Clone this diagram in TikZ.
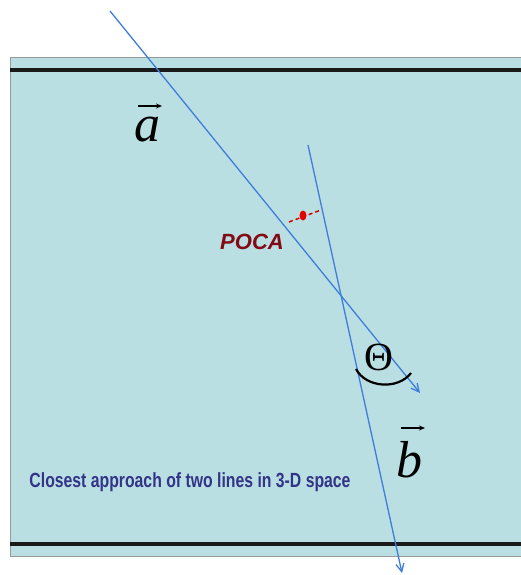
\documentclass[tikz,border=0pt]{standalone}
\usepackage{fontspec}
\newfontfamily\arialfont{Liberation Sans}
\setmainfont{Liberation Serif}
\usetikzlibrary{arrows.meta}
\definecolor{bgfill}{RGB}{186,223,227}
\definecolor{lineblue}{RGB}{62,125,220}
\definecolor{navytext}{RGB}{50,52,135}
\definecolor{pocared}{RGB}{130,10,20}
\begin{document}
\begin{tikzpicture}[x=1pt,y=-1pt,
  ray/.style={draw=lineblue,line width=1.3pt,-{Straight Barb[length=8pt,width=8pt]}},
  rail/.style={draw=black!90,line width=3.5pt},
  vecarrow/.style={draw=black,line width=1.4pt,-{Stealth[length=6pt,width=5pt]}},
  veclabel/.style={inner sep=0pt,font=\itshape\fontsize{52}{52}\selectfont}]
\useasboundingbox (0,0) rectangle (521,575);
\fill[white] (0,0) rectangle (521,575);
% slab
\draw[fill=bgfill,draw=gray!80,line width=1pt] (10,58) rectangle (530,556);
\draw[rail] (10,70) -- (521,70);
\draw[rail] (10,544) -- (521,544);
% lines
\coordinate (a0) at (110,11);
\coordinate (a1) at (420,393);
\coordinate (b0) at (308,145);
\coordinate (b1) at (402,573);
\draw[ray] (a0) -- (a1);
\draw[ray] (b0) -- (b1);
% POCA
\coordinate (p0) at (289,222);
\coordinate (p1) at (321,210);
\draw[red!85!black,line width=1.5pt,dash pattern=on 4pt off 3pt] (p0) -- (p1);
\fill[red!90!black] (303,215.5) ellipse (3.5pt and 5pt);
\node[font=\arialfont\bfseries\itshape\fontsize{22}{22}\selectfont,text=pocared,inner sep=0pt] (poca) at (252,242) {POCA};
% vector labels
\node[veclabel,anchor=base] (la) at (147,141) {a};
\coordinate (la0) at (138,106);
\coordinate (la1) at (162,106);
\draw[vecarrow] (la0) -- (la1);
\node[veclabel,anchor=base] (lb) at (409,477) {b};
\coordinate (lb0) at (401,428);
\coordinate (lb1) at (425,428);
\draw[vecarrow] (lb0) -- (lb1);
% angle
\node[inner sep=0pt,font=\fontsize{40}{40}\selectfont,anchor=base] (th) at (379,370) {Θ};
\coordinate (t0) at (356,369);
\coordinate (t1) at (411,373);
\draw[black,line width=2.2pt] (t0) .. controls (366,388) and (398,390) .. (t1);
\node[inner sep=0pt,text=navytext] (cap) at (190,482) {\scalebox{0.77}[1]{\arialfont\bfseries\fontsize{20.5}{20.5}\selectfont Closest approach of two lines in 3-D space}};
\end{tikzpicture}
\end{document}
